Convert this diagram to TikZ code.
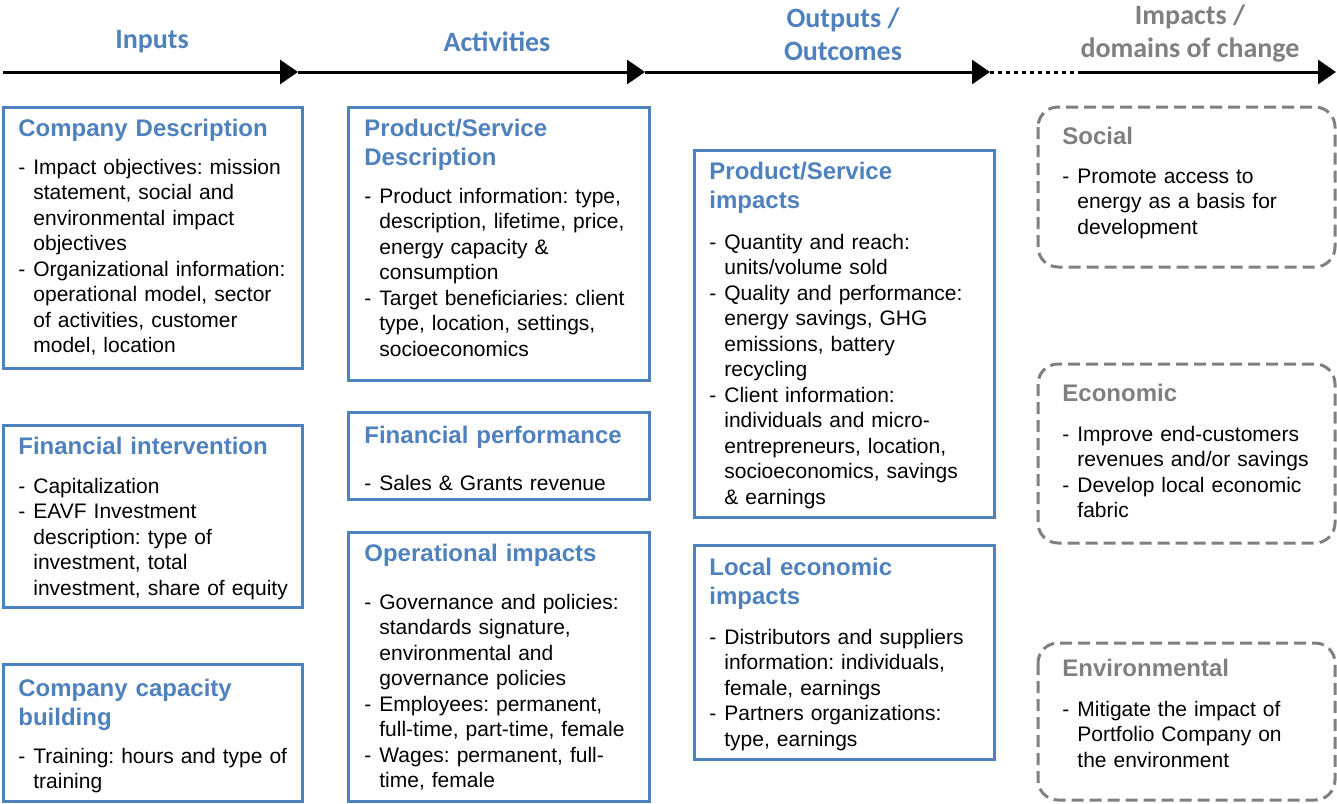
\documentclass[tikz,border=0pt]{standalone}
\usepackage{fontspec}
\setmainfont{Liberation Sans}
\newfontfamily\headfont{Carlito}
\usetikzlibrary{arrows.meta}
\frenchspacing

\definecolor{figBlue}{RGB}{79,129,189}
\definecolor{figGray}{RGB}{128,128,128}
\newcommand\dsh{\makebox[7.5pt][l]{-}}
\newcommand\ind{\hspace*{7.5pt}}

\begin{document}
\begin{tikzpicture}[x=0.5pt, y=-0.5pt,
    frame/.style={draw=figBlue, line width=1.5pt},
    domainbox/.style={draw=figGray, line width=1.5pt,
      dash pattern=on 6pt off 3pt, rounded corners=10pt},
    head/.style={font=\headfont\bfseries\fontsize{14}{16.5}\selectfont, align=center},
    title/.style={anchor=base west, inner sep=0pt, text width=150pt, align=left,
      font=\bfseries\fontsize{12}{14.5}\selectfont, text=figBlue},
    body/.style={anchor=base west, inner sep=0pt, text width=150pt, align=left,
      font=\fontsize{10.5}{12.75}\selectfont},
    tip/.style={-{Triangle[length=9pt,width=12pt]}, line width=1.5pt}]
  \useasboundingbox (0,0) rectangle (1337,803);

  % time line
  \coordinate (t0) at (3,72);
  \coordinate (t1) at (298,72);
  \coordinate (t2) at (645,72);
  \coordinate (t3) at (990,72);
  \coordinate (t4) at (1082,72);
  \coordinate (t5) at (1336,72);
  \draw[tip] (t0) -- (t1);
  \draw[tip] (t1) -- (t2);
  \draw[tip] (t2) -- (t3);
  \draw[line width=1.5pt, dash pattern=on 2pt off 2pt] (t3) -- (t4);
  \draw[tip] (t4) -- (t5);

  \node[head, text=figBlue] (hIn)  at (152,42) {Inputs};
  \node[head, text=figBlue] (hAct) at (497,42) {Activities};
  \node[head, text=figBlue] (hOut) at (843,34) {Outputs /\\Outcomes};
  \node[head, text=figGray] (hImp) at (1190,34) {Impacts /\\domains of change};

  % inputs
  \draw[frame] (3,107) rectangle (302,368);
  \node[title] (cdTitle) at (18,136) {Company Description};
  \node[body] (cdBody) at (18,174)
    {\dsh Impact objectives: mission\\ \ind statement, social and\\
     \ind environmental impact\\ \ind objectives\\
     \dsh Organizational information:\\ \ind operational model, sector\\
     \ind of activities, customer\\ \ind model, location};

  \draw[frame] (3,425) rectangle (302,607);
  \node[title] (fiTitle) at (18,454) {Financial intervention};
  \node[body] (fiBody) at (18,493)
    {\dsh Capitalization\\ \dsh EAVF Investment\\ \ind description: type of\\
     \ind investment, total\\ \ind investment, share of equity};

  \draw[frame] (3,664) rectangle (302,801);
  \node[title] (cbTitle) at (18,696) {Company capacity\\building};
  \node[body] (cbBody) at (18,763)
    {\dsh Training: hours and type of\\ \ind training};

  % activities
  \draw[frame] (348,107) rectangle (649,380);
  \node[title] (psdTitle) at (364,136) {Product/Service\\Description};
  \node[body] (psdBody) at (364,203)
    {\dsh Product information: type,\\ \ind description, lifetime, price,\\
     \ind energy capacity \&\\ \ind consumption\\
     \dsh Target beneficiaries: client\\ \ind type, location, settings,\\
     \ind socioeconomics};

  \draw[frame] (348,412) rectangle (649,499);
  \node[title] (fpTitle) at (364,443) {Financial performance};
  \node[body] (fpBody) at (364,490) {\dsh Sales \& Grants revenue};

  \draw[frame] (348,532) rectangle (649,801);
  \node[title] (oiTitle) at (364,561) {Operational impacts};
  \node[body] (oiBody) at (364,609)
    {\dsh Governance and policies:\\ \ind standards signature,\\
     \ind environmental and\\ \ind governance policies\\
     \dsh Employees: permanent,\\ \ind full-time, part-time, female\\
     \dsh Wages: permanent, full-\\ \ind time, female};

  % outputs / outcomes
  \draw[frame] (694,150) rectangle (994,517);
  \node[title] (psiTitle) at (709,179) {Product/Service\\impacts};
  \node[body] (psiBody) at (709,249)
    {\dsh Quantity and reach:\\ \ind units/volume sold\\
     \dsh Quality and performance:\\ \ind energy savings, GHG\\
     \ind emissions, battery\\ \ind recycling\\
     \dsh Client information:\\ \ind individuals and micro-\\
     \ind entrepreneurs, location,\\ \ind socioeconomics, savings\\
     \ind \& earnings};

  \draw[frame] (694,545) rectangle (994,759);
  \node[title] (leiTitle) at (709,575) {Local economic\\impacts};
  \node[body] (leiBody) at (709,644)
    {\dsh Distributors and suppliers\\ \ind information: individuals,\\
     \ind female, earnings\\
     \dsh Partners organizations:\\ \ind type, earnings};

  % impacts / domains of change
  \draw[domainbox] (1038,107) rectangle (1335,267);
  \node[title, text=figGray] (socTitle) at (1062,144) {Social};
  \node[body] (socBody) at (1062,183)
    {\dsh Promote access to\\ \ind energy as a basis for\\ \ind development};

  \draw[domainbox] (1038,364) rectangle (1335,543);
  \node[title, text=figGray] (ecoTitle) at (1062,401) {Economic};
  \node[body] (ecoBody) at (1062,441)
    {\dsh Improve end-customers\\ \ind revenues and/or savings\\
     \dsh Develop local economic\\ \ind fabric};

  \draw[domainbox] (1038,643) rectangle (1335,800);
  \node[title, text=figGray] (envTitle) at (1062,676) {Environmental};
  \node[body] (envBody) at (1062,716)
    {\dsh Mitigate the impact of\\ \ind Portfolio Company on\\ \ind the environment};
\end{tikzpicture}
\end{document}
